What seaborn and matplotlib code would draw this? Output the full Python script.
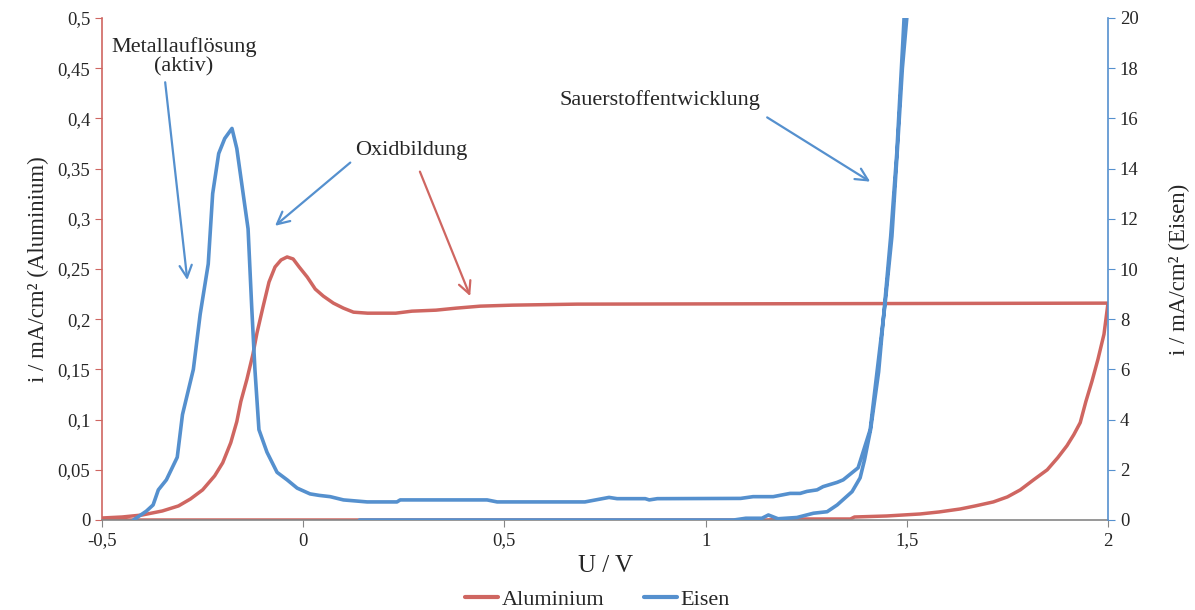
import matplotlib
matplotlib.use("Agg")
import matplotlib.pyplot as plt
from matplotlib.ticker import FuncFormatter
from matplotlib.lines import Line2D
import seaborn as sns
import pandas as pd

# ---- data ----
al_u = [-0.5, -0.45, -0.40, -0.35, -0.31, -0.28, -0.25, -0.22, -0.2, -0.18, -0.165, -0.155,
        -0.14, -0.125, -0.115, -0.1, -0.085, -0.07, -0.055, -0.04, -0.025, -0.01, 0.01, 0.03,
        0.05, 0.075, 0.1, 0.125, 0.16, 0.23, 0.27, 0.33, 0.38, 0.44, 0.52, 0.68, 2.0,
        1.99, 1.975, 1.96, 1.945, 1.931, 1.915, 1.898, 1.875, 1.849, 1.815, 1.782, 1.75,
        1.715, 1.67, 1.633, 1.58, 1.533, 1.45, 1.37, 1.36, 1.2, 1.15, -0.5]
al_i = [0.002, 0.003, 0.005, 0.009, 0.014, 0.021, 0.030, 0.044, 0.057, 0.077, 0.098, 0.118,
        0.14, 0.165, 0.186, 0.212, 0.237, 0.252, 0.259, 0.262, 0.260, 0.252, 0.242, 0.230,
        0.223, 0.216, 0.211, 0.207, 0.206, 0.206, 0.208, 0.209, 0.211, 0.213, 0.214, 0.215, 0.216,
        0.185, 0.16, 0.138, 0.118, 0.097, 0.085, 0.074, 0.062, 0.050, 0.040, 0.030, 0.023,
        0.018, 0.014, 0.011, 0.008, 0.006, 0.004, 0.003, 0.001, 0.001, 0.0, 0.0]

fe_u = [-0.422, -0.39, -0.373, -0.36, -0.34, -0.313, -0.30, -0.273, -0.256, -0.236, -0.225,
        -0.21, -0.195, -0.177, -0.165, -0.137, -0.128, -0.12, -0.11, -0.09, -0.065, -0.04,
        -0.015, 0.017, 0.04, 0.067, 0.1, 0.159, 0.233, 0.241, 0.457, 0.482, 0.70, 0.76, 0.78,
        0.85, 0.86, 0.88, 1.087, 1.118, 1.168, 1.21, 1.235, 1.252, 1.277, 1.292, 1.327, 1.342,
        1.379, 1.409, 1.426, 1.446, 1.463, 1.476, 1.489, 1.50, 1.505,
        1.498, 1.49, 1.475, 1.46, 1.445, 1.43, 1.41, 1.395, 1.384, 1.364, 1.327, 1.302, 1.268,
        1.227, 1.18, 1.156, 1.14, 1.10, 1.07, 0.14]
fe_i = [0.0, 0.35, 0.6, 1.2, 1.6, 2.5, 4.2, 6.0, 8.2, 10.2, 13.0,
        14.6, 15.2, 15.6, 14.8, 11.6, 8.5, 6.0, 3.6, 2.7, 1.9, 1.6,
        1.27, 1.04, 0.98, 0.93, 0.8, 0.72, 0.72, 0.8, 0.8, 0.72, 0.72, 0.9, 0.85,
        0.85, 0.8, 0.85, 0.86, 0.93, 0.93, 1.06, 1.06, 1.14, 1.2, 1.33, 1.5, 1.6,
        2.08, 3.6, 5.9, 8.6, 11.3, 14.6, 18.0, 20.0, 21.5,
        21.5, 19.0, 14.6, 11.3, 8.6, 5.9, 3.6, 2.4, 1.68, 1.13, 0.6, 0.33, 0.27,
        0.1, 0.05, 0.2, 0.07, 0.07, 0.0, 0.0]

x_ticks = [-0.5, 0, 0.5, 1, 1.5, 2]
al_ticks = [0, 0.05, 0.1, 0.15, 0.2, 0.25, 0.3, 0.35, 0.4, 0.45, 0.5]
fe_ticks = [0, 2, 4, 6, 8, 10, 12, 14, 16, 18, 20]

df_al = pd.DataFrame({"U": al_u, "i": al_i})
df_fe = pd.DataFrame({"U": fe_u, "i": fe_i})

RED = "#CF6661"
BLUE = "#5590CE"
GREY = "#868686"

sns.set_style("white")
plt.rcParams["font.family"] = ["Liberation Serif", "DejaVu Serif"]

fig = plt.figure(figsize=(11.95, 6.10), dpi=100)
ax = fig.add_axes([102 / 1195, 1 - 520 / 610, (1108 - 102) / 1195, (520 - 18) / 610])
ax2 = ax.twinx()

sns.lineplot(data=df_al, x="U", y="i", sort=False, estimator=None, ax=ax,
             color=RED, lw=2.5, legend=False)
sns.lineplot(data=df_fe, x="U", y="i", sort=False, estimator=None, ax=ax2,
             color=BLUE, lw=2.6, legend=False)
ax2.set_zorder(ax.get_zorder() + 1)
ax2.patch.set_visible(False)

ax.set_xlim(-0.5, 2)
ax.set_ylim(0, 0.5)
ax2.set_ylim(0, 20)
ax.set_xticks(x_ticks)
ax.set_yticks(al_ticks)
ax2.set_yticks(fe_ticks)

fmt = FuncFormatter(lambda v, p: f"{v:g}".replace(".", ","))
ax.xaxis.set_major_formatter(fmt)
ax.yaxis.set_major_formatter(fmt)
ax2.yaxis.set_major_formatter(fmt)

for a in (ax, ax2):
    a.spines["top"].set_visible(False)
    a.spines["bottom"].set_color(GREY)
ax.spines["right"].set_visible(False)
ax.spines["left"].set_color(RED)
ax.spines["left"].set_linewidth(1.2)
ax2.spines["left"].set_visible(False)
ax2.spines["bottom"].set_visible(False)
ax2.spines["right"].set_color(BLUE)
ax2.spines["right"].set_linewidth(1.2)
ax.spines["bottom"].set_linewidth(1.2)

ax.tick_params(axis="x", direction="out", length=5, color=GREY, labelsize=13.5, pad=4,
               bottom=True)
ax.tick_params(axis="y", direction="out", length=5, color=RED, labelsize=13.5, left=True)
ax2.tick_params(axis="y", direction="out", length=5, color=BLUE, labelsize=13.5, right=True)

ax.set_xlabel("U / V", fontsize=18, labelpad=4)
ax.set_ylabel("i / mA/cm² (Aluminium)", fontsize=16.5, labelpad=6)
ax2.set_ylabel("i / mA/cm² (Eisen)", fontsize=16.5, labelpad=22)

# annotations (in aluminium axis data coordinates)
akw = dict(arrowstyle="->", lw=1.6, mutation_scale=22, shrinkA=0, shrinkB=0)
TFS = 16
ax.text(-0.296, 0.461, "Metallauflösung\n(aktiv)", ha="center", va="center",
        fontsize=TFS, linespacing=1.0)
ax.annotate("", xy=(-0.288, 0.239), xytext=(-0.343, 0.436),
            arrowprops=dict(color=BLUE, **akw))
ax.text(0.269, 0.368, "Oxidbildung", ha="center", va="center", fontsize=TFS)
ax.annotate("", xy=(-0.070, 0.293), xytext=(0.117, 0.356),
            arrowprops=dict(color=BLUE, **akw))
ax.annotate("", xy=(0.415, 0.223), xytext=(0.290, 0.347),
            arrowprops=dict(color=RED, **akw))
ax.text(0.887, 0.418, "Sauerstoffentwicklung", ha="center", va="center", fontsize=TFS)
ax.annotate("", xy=(1.409, 0.337), xytext=(1.153, 0.401),
            arrowprops=dict(color=BLUE, **akw))

handles = [Line2D([], [], color=RED, lw=3), Line2D([], [], color=BLUE, lw=3)]
fig.legend(handles, ["Aluminium", "Eisen"], loc="center", bbox_to_anchor=(0.5, 1 - 600 / 610),
           ncol=2, frameon=False, fontsize=16, handlelength=1.5, handletextpad=0.15,
           columnspacing=1.8)

fig.savefig("out.png", dpi=100)
